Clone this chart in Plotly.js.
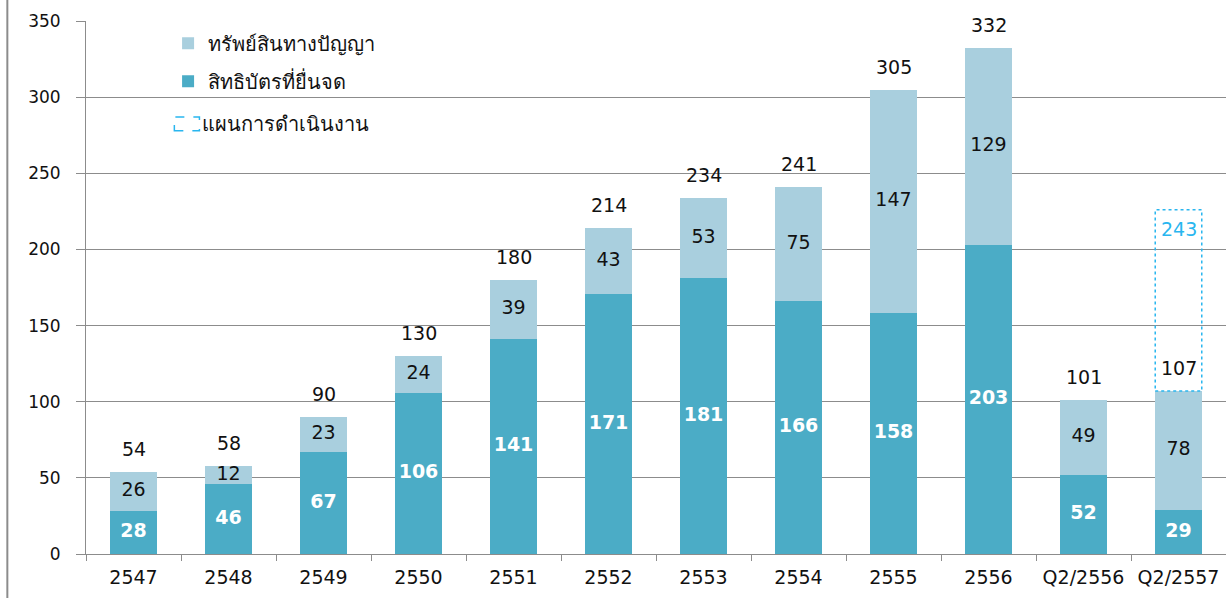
<!DOCTYPE html>
<html><head><meta charset="utf-8">
<script src="https://cdn.plot.ly/plotly-3.0.1.min.js"></script>
<style>html,body{margin:0;padding:0;background:#fff}#chart{width:1226px;height:598px}</style>
</head><body><div id="chart"></div>
<script>
// ---- data ----
const categories = ['2547','2548','2549','2550','2551','2552','2553','2554','2555','2556','Q2/2556','Q2/2557'];
const patentFiled = [28,46,67,106,141,171,181,166,158,203,52,29];      // สิทธิบัตรที่ยื่นจด
const ipAssets    = [26,12,23,24,39,43,53,75,147,129,49,78];           // ทรัพย์สินทางปัญญา
const totals      = [54,58,90,130,180,214,234,241,305,332,101,107];
const planCategory = 'Q2/2557';
const planLabel    = 243;   // แผนการดำเนินงาน (label)
const planBoxTop   = 226;   // top of the dashed plan box as drawn
const seriesNames  = ['สิทธิบัตรที่ยื่นจด','ทรัพย์สินทางปัญญา','แผนการดำเนินงาน'];

// ---- styling ----
const DARK = '#4BACC6', LIGHT = '#A9CFDE', PLAN = '#29B6EF', GRID = '#8C8C8C';
const NUMFONT = 'Verdana, "DejaVu Sans", sans-serif';
const THAIFONT = 'Tahoma, "Noto Sans", "DejaVu Sans", sans-serif';

const planIdx = categories.indexOf(planCategory);
const halfW = 0.245;

const traces = [
  {type:'bar', x:categories, y:patentFiled, name:seriesNames[0], marker:{color:DARK},
   legendgroup:'b', legendrank:2, hoverinfo:'skip'},
  {type:'bar', x:categories, y:ipAssets, name:seriesNames[1], marker:{color:LIGHT},
   legendgroup:'a', legendrank:1, hoverinfo:'skip'},
  {type:'scatter', mode:'text', x:categories, y:patentFiled.map(v=>v/2),
   text:patentFiled.map(String), textposition:'middle center',
   textfont:{family:NUMFONT, size:19, color:'#ffffff', weight:'bold'}, showlegend:false, hoverinfo:'skip'},
  {type:'scatter', mode:'text', x:categories, y:ipAssets.map((v,i)=>patentFiled[i]+v/2),
   text:ipAssets.map(String), textposition:'middle center',
   textfont:{family:NUMFONT, size:19, color:'#111111'}, showlegend:false, hoverinfo:'skip'}
];

// category axes take numeric positions (index) in annotations/shapes
const annotations = categories.map((c,i)=>({
  x:i, y:totals[i], xref:'x', yref:'y', text:String(totals[i]), showarrow:false,
  yanchor:'bottom', yshift:10, font:{family:NUMFONT, size:19, color:'#111111'}
}));
annotations.push({x:planIdx, y:planBoxTop, xref:'x', yref:'y', text:String(planLabel),
  showarrow:false, yanchor:'top', yshift:-6, font:{family:NUMFONT, size:19, color:PLAN}});
// third legend entry (dashed box)
annotations.push({xref:'paper', yref:'paper', x:0.1, y:0.807, xanchor:'left', yanchor:'middle',
  text:seriesNames[2], showarrow:false, font:{family:THAIFONT, size:20, color:'#111111'}});

const shapes = [
  {type:'rect', xref:'x', yref:'y', x0:planIdx-halfW, x1:planIdx+halfW, y0:totals[planIdx], y1:planBoxTop,
   line:{color:PLAN, width:1.5, dash:'dot'}, fillcolor:'rgba(0,0,0,0)', layer:'above'},
  {type:'rect', xref:'paper', yref:'paper', x0:0.0775, x1:0.0995, y0:0.794, y1:0.82,
   line:{color:PLAN, width:1.5, dash:'dash'}, fillcolor:'rgba(0,0,0,0)'},
  {type:'line', xref:'paper', yref:'paper', x0:-0.069, x1:-0.069, y0:-0.1, y1:1.05,
   line:{color:'#8C8C8C', width:2}}
];

const layout = {
  width:1226, height:598,
  margin:{l:86, r:0, t:21, b:44, pad:0},
  paper_bgcolor:'#ffffff', plot_bgcolor:'#ffffff',
  barmode:'stack', bargap:0.51,
  showlegend:true,
  legend:{x:0.072, y:0.995, xanchor:'left', yanchor:'top', bgcolor:'rgba(0,0,0,0)',
          traceorder:'grouped', tracegroupgap:9, itemwidth:30,
          font:{family:THAIFONT, size:20, color:'#111111'}},
  xaxis:{type:'category', range:[-0.5, categories.length-0.5], tickson:'boundaries', ticks:'outside', ticklen:6, tickcolor:GRID,
         showline:true, linecolor:GRID, linewidth:1, showgrid:false, ticklabelstandoff:6,
         tickfont:{family:NUMFONT, size:19, color:'#111111'}, fixedrange:true},
  yaxis:{range:[0,350], dtick:50, ticks:'outside', ticklen:9, tickcolor:GRID,
         showline:true, linecolor:GRID, linewidth:1, showgrid:true, gridcolor:GRID, gridwidth:1,
         zeroline:false, ticklabelstandoff:12,
         tickfont:{family:NUMFONT, size:17, color:'#111111'}, fixedrange:true},
  annotations:annotations, shapes:shapes
};

Plotly.newPlot('chart', traces, layout, {displayModeBar:false, staticPlot:true});
</script></body></html>
